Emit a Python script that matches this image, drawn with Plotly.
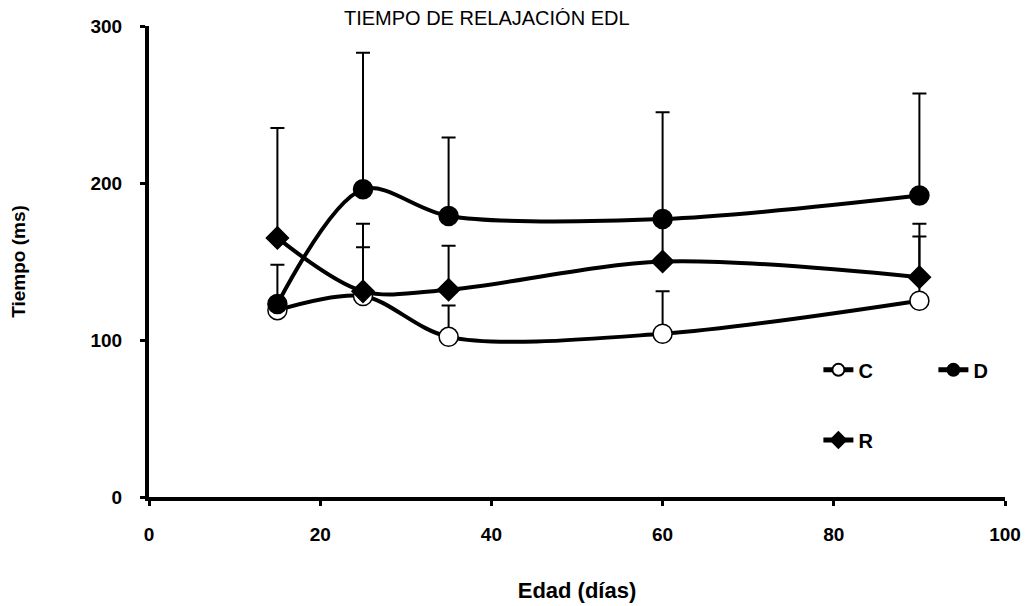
import plotly.graph_objects as go

# edad (dias)
edad = [15, 25, 35, 60, 90]

# tiempo de relajacion (ms) por grupo
tiempo_c = [119, 128, 102, 104, 125]
tiempo_d = [123, 196, 179, 177, 192]
tiempo_r = [165, 131, 132, 150, 140]

# error superior (solo hacia arriba)
err_c = [0, 31, 20, 27, 41]
err_d = [25, 87, 50, 68, 65]
err_r = [70, 43, 28, 26, 34]

FONT = "Liberation Sans"

fig = go.Figure()


def add_series(name, y, err, symbol, fill, size, legend):
    fig.add_trace(go.Scatter(
        x=edad, y=y, name=name, mode="lines+markers",
        line=dict(color="black", width=4, shape="spline", smoothing=0.9),
        marker=dict(symbol=symbol, size=size, color=fill, line=dict(color="black", width=1.5)),
        error_y=dict(type="data", symmetric=False, array=err, arrayminus=[0] * len(err),
                     color="black", thickness=2, width=7),
        legend=legend,
    ))


add_series("C", tiempo_c, err_c, "circle", "white", 19, "legend")
add_series("D", tiempo_d, err_d, "circle", "black", 19, "legend")
add_series("R", tiempo_r, err_r, "diamond", "black", 17, "legend2")

tick_font = dict(family=FONT, size=19, color="black", weight="bold")
legend_font = dict(family=FONT, size=20, color="black", weight="bold")

# the page body adds an 8px offset, so the figure is sized a bit smaller
fig.update_layout(
    width=1023, height=598,
    margin=dict(l=141, r=26, t=18, b=109, autoexpand=False),
    plot_bgcolor="white", paper_bgcolor="white",
    font=dict(family=FONT, color="black"),
    title=dict(text="TIEMPO DE RELAJACIÓN EDL", font=dict(family=FONT, size=20, color="black"),
               x=0.468, xanchor="center", y=0.983, yanchor="middle"),
    xaxis=dict(range=[0, 100], tickvals=[0, 20, 40, 60, 80, 100], showgrid=False, zeroline=False,
               showline=True, linecolor="black", linewidth=4, ticks="outside", ticklen=5,
               tickwidth=3, tickcolor="black", tickfont=tick_font, ticklabelstandoff=12,
               automargin=False,
               title=dict(text="Edad (días)", font=dict(family=FONT, size=22, color="black", weight="bold"),
                          standoff=40)),
    yaxis=dict(range=[0, 300], tickvals=[0, 100, 200, 300], showgrid=False, zeroline=False,
               showline=True, linecolor="black", linewidth=4, ticks="outside", ticklen=5,
               tickwidth=3, tickcolor="black", tickfont=tick_font, ticklabelstandoff=14,
               automargin=False,
               title=dict(text="Tiempo (ms)", font=dict(family=FONT, size=19, color="black", weight="bold"),
                          standoff=62)),
    legend=dict(orientation="h", x=0.782, y=0.27, yanchor="middle", xanchor="left",
                bgcolor="rgba(0,0,0,0)", font=legend_font,
                itemsizing="constant", entrywidth=70, entrywidthmode="pixels"),
    legend2=dict(orientation="h", x=0.782, y=0.121, yanchor="middle", xanchor="left",
                 bgcolor="rgba(0,0,0,0)", font=legend_font, itemsizing="constant"),
)

fig.write_html("out.html")
